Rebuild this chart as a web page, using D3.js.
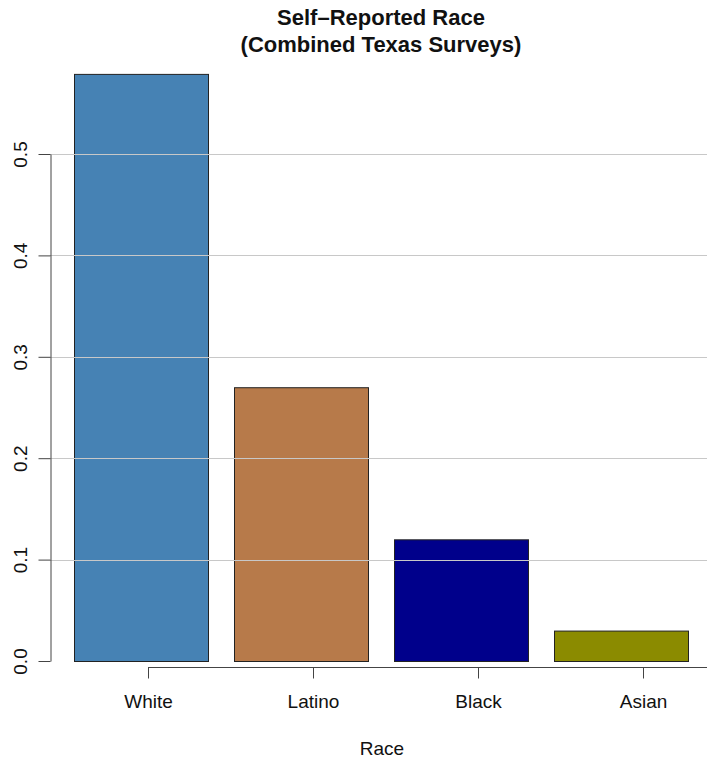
<!DOCTYPE html>
<html><head><meta charset="utf-8">
<script src="https://cdn.jsdelivr.net/npm/d3@7"></script>
<style>body{margin:0;background:#fff;} svg{display:block;font-family:"Liberation Sans",Arial,Helvetica,sans-serif;}</style>
</head><body><div id="chart"></div>
<script>
const categories = ["White", "Latino", "Black", "Asian"];
const values = [0.579, 0.270, 0.120, 0.030];
const barColors = ["#4682B4", "#B77A4A", "#00008B", "#8B8B00"];
const yTicks = [0.0, 0.1, 0.2, 0.3, 0.4, 0.5];
const gridTicks = [0.1, 0.2, 0.3, 0.4, 0.5];
const titleLines = ["Self\u2013Reported Race", "(Combined Texas Surveys)"];
const xLabel = "Race";

const W = 707, H = 759;
const svg = d3.select("#chart").append("svg").attr("width", W).attr("height", H);

const y = d3.scaleLinear().domain([0, 0.5]).range([661, 154]);
const x = d3.scaleBand().domain(categories).range([61, 701]).paddingInner(0.1625).paddingOuter(0.08125);
const xt = d3.scalePoint().domain(categories).range([148, 643]);

// bars
svg.append("g").selectAll("rect").data(categories).join("rect")
  .attr("x", d => x(d) + 0.5)
  .attr("y", (d, i) => y(values[i]) + 0.5)
  .attr("width", x.bandwidth())
  .attr("height", (d, i) => y(0) - y(values[i]))
  .attr("fill", (d, i) => barColors[i])
  .attr("stroke", "#222").attr("stroke-width", 1);

// gridlines (drawn over bars)
svg.append("g").selectAll("line").data(gridTicks).join("line")
  .attr("x1", 50).attr("x2", W)
  .attr("y1", d => Math.round(y(d)) + 0.5).attr("y2", d => Math.round(y(d)) + 0.5)
  .attr("stroke", "#c8c8c8").attr("stroke-width", 1.2);

// y axis
const ya = svg.append("g").attr("transform", "translate(50.5,0)")
  .call(d3.axisLeft(y).tickValues(yTicks).tickFormat(d3.format(".1f")).tickSize(12).tickSizeOuter(0));
ya.select(".domain").attr("stroke", "#444");
ya.selectAll(".tick line").attr("stroke", "#444");
ya.selectAll(".tick text")
  .attr("transform", "rotate(-90)")
  .attr("x", 0).attr("y", -24).attr("dy", 0)
  .attr("text-anchor", "middle")
  .style("font-size", "19px").attr("fill", "#111");

// x axis
const xa = svg.append("g").attr("transform", "translate(0,667.5)")
  .call(d3.axisBottom(xt).tickSize(11).tickSizeOuter(0).tickPadding(16));
xa.select(".domain").attr("d", `M${xt(categories[0])},0H${W}`).attr("stroke", "#444");
xa.selectAll(".tick line").attr("stroke", "#444");
xa.selectAll(".tick text").style("font-size", "19px").attr("fill", "#111");

// x label
svg.append("text").attr("x", 382).attr("y", 755).attr("text-anchor", "middle")
  .style("font-size", "19px").attr("fill", "#111").text(xLabel);

// title
svg.append("g").selectAll("text").data(titleLines).join("text")
  .attr("x", 381).attr("y", (d, i) => 25 + i * 27)
  .attr("text-anchor", "middle")
  .style("font-size", "22px").style("font-weight", "bold").attr("fill", "#111")
  .text(d => d);
</script></body></html>
